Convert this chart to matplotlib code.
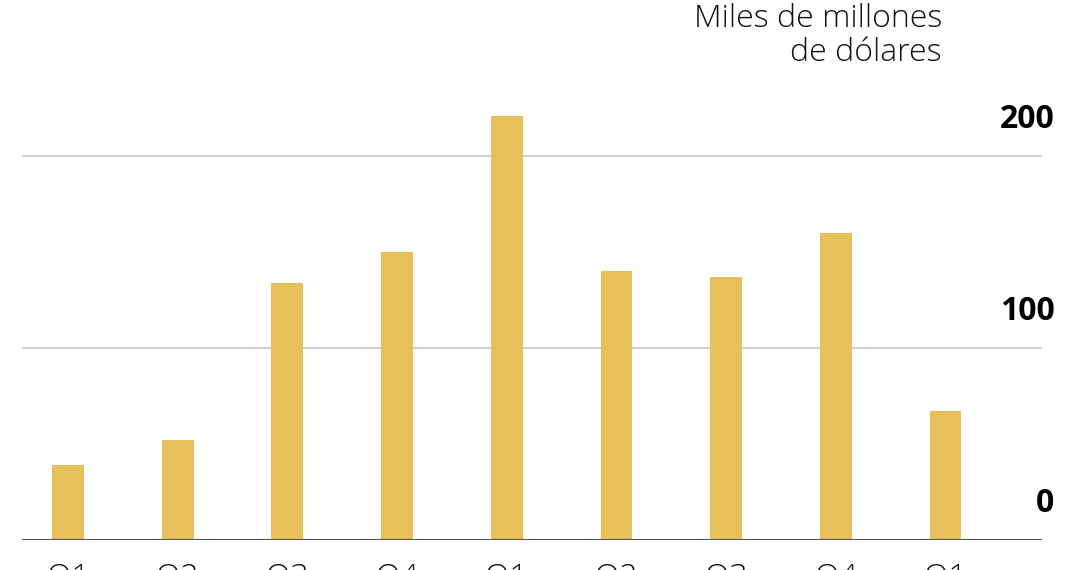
import numpy as np
import matplotlib.pyplot as plt
from matplotlib import transforms

quarters = ["Q1", "Q2", "Q3", "Q4", "Q1", "Q2", "Q3", "Q4", "Q1"]
values = [39, 52, 134, 150, 221, 140, 137, 160, 67]
y_ticks = [0, 100, 200]
y_labels = ["0", "100", "200"]
unit_text = "Miles de millones\nde dólares"

bar_color = "#E8C05B"

plt.rcParams['font.family'] = ['Open Sans', 'DejaVu Sans']

fig = plt.figure(figsize=(10.8, 5.7), dpi=100)
ax = fig.add_axes([0.0204, 0.0526, 0.944, 0.7748])

x = np.arange(len(values))
ax.bar(x, values, width=0.29, color=bar_color, zorder=2)

ax.set_xlim(-0.419, 8.875)
ax.set_ylim(0, 230)

# grid lines at 100 and 200, dark baseline at 0
for v in y_ticks[1:]:
    ax.axhline(v, color="#cccccc", lw=1.3, zorder=1)
ax.axhline(0, color="#555555", lw=1.5, zorder=3)

# value labels sit above their line, at the right edge
trans = transforms.blended_transform_factory(ax.transAxes, ax.transData)
for v, lab in zip(y_ticks, y_labels):
    ax.annotate(lab, xy=(1.0, v), xycoords=trans, xytext=(9.4, 20),
                textcoords="offset points", ha="right", va="baseline",
                fontsize=23, fontweight="bold", color="black",
                annotation_clip=False)

# quarter labels are cut by the lower edge, as in the original
ax.set_xticks(x)
ax.set_xticklabels(quarters, fontsize=23, fontweight="light", color="#111111")
ax.tick_params(axis="x", length=0, pad=16)
ax.set_yticks([])
for s in ax.spines.values():
    s.set_visible(False)

fig.text(942 / 1080, 1 - 3 / 570, unit_text, ha="right", va="top",
         fontsize=23, fontweight="light", color="#111111", linespacing=1.08)

fig.savefig("out.png", dpi=100)
